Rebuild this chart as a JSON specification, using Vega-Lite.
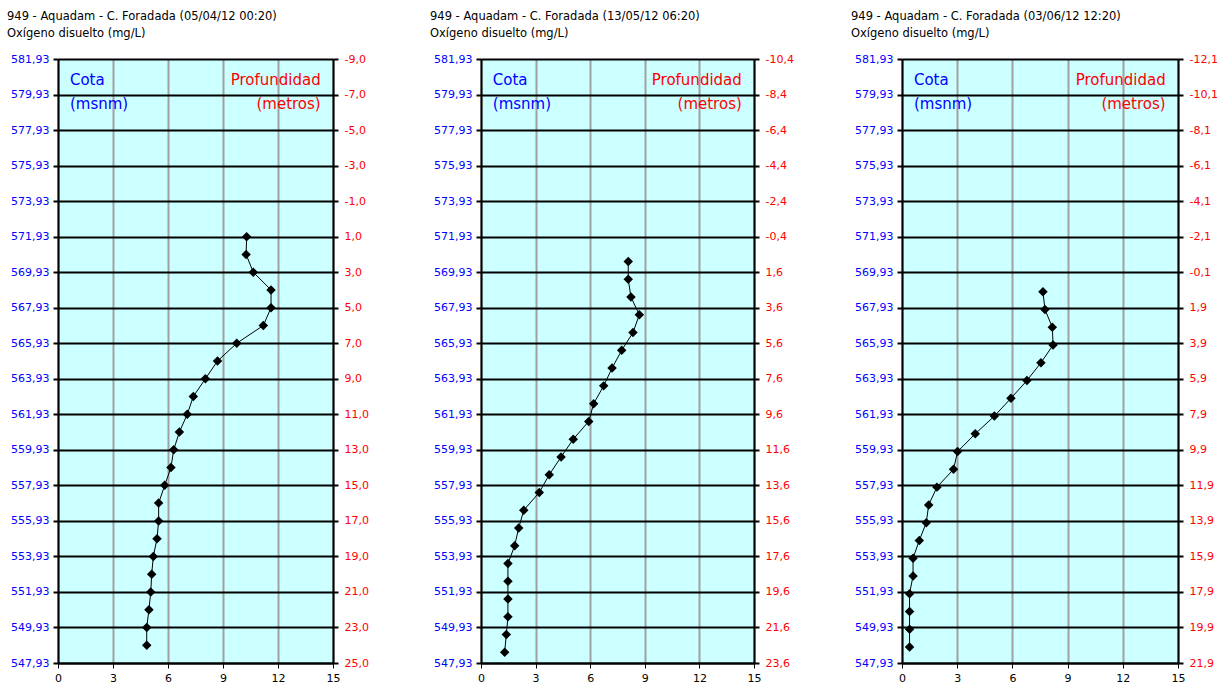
{
  "$schema": "https://vega.github.io/schema/vega-lite/v6.json",
  "background": "white",
  "padding": {"left": 0, "top": 11, "right": 0, "bottom": 0},
  "spacing": 45,
  "config": {
    "view": {"fill": "#ccffff", "stroke": null},
    "font": "DejaVu Sans",
    "title": {"anchor": "start", "frame": "group", "dx": -51, "fontSize": 11.5, "fontWeight": "normal", "lineHeight": 16.5, "offset": 14, "color": "black", "font": "DejaVu Sans"}
  },
  "datasets": {
    "p1": [
      {"cota": 571.93, "od": 10.29}, {"cota": 570.93, "od": 10.26}, {"cota": 569.93, "od": 10.65},
      {"cota": 568.93, "od": 11.62}, {"cota": 567.93, "od": 11.62}, {"cota": 566.93, "od": 11.2},
      {"cota": 565.93, "od": 9.75}, {"cota": 564.93, "od": 8.7}, {"cota": 563.93, "od": 8.04},
      {"cota": 562.93, "od": 7.38}, {"cota": 561.93, "od": 7.05}, {"cota": 560.93, "od": 6.62},
      {"cota": 559.93, "od": 6.31}, {"cota": 558.93, "od": 6.16}, {"cota": 557.93, "od": 5.82},
      {"cota": 556.93, "od": 5.49}, {"cota": 555.93, "od": 5.49}, {"cota": 554.93, "od": 5.4},
      {"cota": 553.93, "od": 5.2}, {"cota": 552.93, "od": 5.11}, {"cota": 551.93, "od": 5.06},
      {"cota": 550.93, "od": 4.96}, {"cota": 549.93, "od": 4.84}, {"cota": 548.93, "od": 4.84}
    ],
    "p2": [
      {"cota": 570.53, "od": 8.09}, {"cota": 569.53, "od": 8.09}, {"cota": 568.53, "od": 8.24},
      {"cota": 567.53, "od": 8.7}, {"cota": 566.53, "od": 8.35}, {"cota": 565.53, "od": 7.73},
      {"cota": 564.53, "od": 7.2}, {"cota": 563.53, "od": 6.74}, {"cota": 562.53, "od": 6.19},
      {"cota": 561.53, "od": 5.92}, {"cota": 560.53, "od": 5.07}, {"cota": 559.53, "od": 4.4},
      {"cota": 558.53, "od": 3.75}, {"cota": 557.53, "od": 3.2}, {"cota": 556.53, "od": 2.35},
      {"cota": 555.53, "od": 2.07}, {"cota": 554.53, "od": 1.85}, {"cota": 553.53, "od": 1.48},
      {"cota": 552.53, "od": 1.48}, {"cota": 551.53, "od": 1.48}, {"cota": 550.53, "od": 1.48},
      {"cota": 549.53, "od": 1.39}, {"cota": 548.53, "od": 1.3}
    ],
    "p3": [
      {"cota": 568.83, "od": 7.66}, {"cota": 567.83, "od": 7.77}, {"cota": 566.83, "od": 8.17},
      {"cota": 565.83, "od": 8.21}, {"cota": 564.83, "od": 7.55}, {"cota": 563.83, "od": 6.79},
      {"cota": 562.83, "od": 5.92}, {"cota": 561.83, "od": 5.02}, {"cota": 560.83, "od": 3.98},
      {"cota": 559.83, "od": 3.02}, {"cota": 558.83, "od": 2.8}, {"cota": 557.83, "od": 1.9},
      {"cota": 556.83, "od": 1.45}, {"cota": 555.83, "od": 1.32}, {"cota": 554.83, "od": 0.94},
      {"cota": 553.83, "od": 0.6}, {"cota": 552.83, "od": 0.6}, {"cota": 551.83, "od": 0.41},
      {"cota": 550.83, "od": 0.41}, {"cota": 549.83, "od": 0.41}, {"cota": 548.83, "od": 0.41}
    ]
  },
  "hconcat": [
    {
      "width": 275, "height": 604,
      "title": {"text": ["949 - Aquadam - C. Foradada (05/04/12 00:20)", "Oxígeno disuelto (mg/L)"]},
      "data": {"name": "p1"},
      "resolve": {"axis": {"y": "independent"}},
      "layer": [
        {
          "mark": {"type": "line", "color": "black", "strokeWidth": 1},
          "encoding": {
            "x": {"field": "od", "type": "quantitative", "scale": {"domain": [0, 15], "nice": false, "zero": false},
              "axis": {"title": null, "values": [0, 3, 6, 9, 12, 15], "format": "d", "labelFlush": false, "labelColor": "black", "labelFont": "DejaVu Sans", "labelFontSize": 11, "tickSize": 5, "tickColor": "black", "tickWidth": 1, "labelPadding": 4, "domainColor": "black", "domainWidth": 2, "grid": true, "gridColor": "#a0a0a0", "gridWidth": 2, "gridOpacity": 1}},
            "y": {"field": "cota", "type": "quantitative", "scale": {"domain": [547.93, 581.93], "nice": false, "zero": false},
              "axis": {"orient": "left", "title": null, "values": [547.93, 549.93, 551.93, 553.93, 555.93, 557.93, 559.93, 561.93, 563.93, 565.93, 567.93, 569.93, 571.93, 573.93, 575.93, 577.93, 579.93, 581.93],
                "labelExpr": "replace(format(datum.value, '.2f'), '.', ',')", "labelColor": "#0000ff", "labelFont": "DejaVu Sans", "labelFontSize": 11, "labelOverlap": false, "tickSize": 5, "tickColor": "black", "tickWidth": 2, "labelPadding": 4, "domainColor": "black", "domainWidth": 2, "grid": true, "gridColor": "black", "gridWidth": 2, "gridOpacity": 1, "minExtent": 58, "maxExtent": 58}},
            "order": {"field": "cota", "type": "quantitative", "sort": "descending"}
          }
        },
        {
          "mark": {"type": "point", "shape": "diamond", "filled": true, "color": "black", "size": 90, "opacity": 1},
          "encoding": {
            "x": {"field": "od", "type": "quantitative", "axis": {"title": null}},
            "y": {"field": "cota", "type": "quantitative",
              "axis": {"orient": "right", "title": null, "values": [547.93, 549.93, 551.93, 553.93, 555.93, 557.93, 559.93, 561.93, 563.93, 565.93, 567.93, 569.93, 571.93, 573.93, 575.93, 577.93, 579.93, 581.93],
                "labelExpr": "replace(replace(format(572.93 - datum.value, '.1f'), '.', ','), '−', '-')", "labelColor": "#ff0000", "labelFont": "DejaVu Sans", "labelFontSize": 11, "labelOverlap": false, "tickSize": 5, "tickColor": "black", "tickWidth": 2, "labelPadding": 6, "domainColor": "black", "domainWidth": 2, "grid": false, "minExtent": 45, "maxExtent": 45}}
          }
        },
        {
          "data": {"values": [{}]},
          "mark": {"type": "text", "align": "left", "baseline": "alphabetic", "fontSize": 15, "font": "DejaVu Sans", "color": "#0000ff", "lineHeight": 24},
          "encoding": {
            "x": {"datum": 0.65, "type": "quantitative", "axis": {"title": null}},
            "y": {"datum": 580.44, "type": "quantitative", "axis": null},
            "text": {"value": ["Cota", "(msnm)"]}
          }
        },
        {
          "data": {"values": [{}]},
          "mark": {"type": "text", "align": "right", "baseline": "alphabetic", "fontSize": 15, "font": "DejaVu Sans", "color": "#ff0000", "lineHeight": 24},
          "encoding": {
            "x": {"datum": 14.33, "type": "quantitative", "axis": {"title": null}},
            "y": {"datum": 580.44, "type": "quantitative", "axis": null},
            "text": {"value": ["Profundidad", "(metros)"]}
          }
        }
      ]
    },
    {
      "width": 273, "height": 604,
      "title": {"text": ["949 - Aquadam - C. Foradada (13/05/12 06:20)", "Oxígeno disuelto (mg/L)"]},
      "data": {"name": "p2"},
      "resolve": {"axis": {"y": "independent"}},
      "layer": [
        {
          "mark": {"type": "line", "color": "black", "strokeWidth": 1},
          "encoding": {
            "x": {"field": "od", "type": "quantitative", "scale": {"domain": [0, 15], "nice": false, "zero": false},
              "axis": {"title": null, "values": [0, 3, 6, 9, 12, 15], "format": "d", "labelFlush": false, "labelColor": "black", "labelFont": "DejaVu Sans", "labelFontSize": 11, "tickSize": 5, "tickColor": "black", "tickWidth": 1, "labelPadding": 4, "domainColor": "black", "domainWidth": 2, "grid": true, "gridColor": "#a0a0a0", "gridWidth": 2, "gridOpacity": 1}},
            "y": {"field": "cota", "type": "quantitative", "scale": {"domain": [547.93, 581.93], "nice": false, "zero": false},
              "axis": {"orient": "left", "title": null, "values": [547.93, 549.93, 551.93, 553.93, 555.93, 557.93, 559.93, 561.93, 563.93, 565.93, 567.93, 569.93, 571.93, 573.93, 575.93, 577.93, 579.93, 581.93],
                "labelExpr": "replace(format(datum.value, '.2f'), '.', ',')", "labelColor": "#0000ff", "labelFont": "DejaVu Sans", "labelFontSize": 11, "labelOverlap": false, "tickSize": 5, "tickColor": "black", "tickWidth": 2, "labelPadding": 4, "domainColor": "black", "domainWidth": 2, "grid": true, "gridColor": "black", "gridWidth": 2, "gridOpacity": 1, "minExtent": 58, "maxExtent": 58}},
            "order": {"field": "cota", "type": "quantitative", "sort": "descending"}
          }
        },
        {
          "mark": {"type": "point", "shape": "diamond", "filled": true, "color": "black", "size": 90, "opacity": 1},
          "encoding": {
            "x": {"field": "od", "type": "quantitative", "axis": {"title": null}},
            "y": {"field": "cota", "type": "quantitative",
              "axis": {"orient": "right", "title": null, "values": [547.93, 549.93, 551.93, 553.93, 555.93, 557.93, 559.93, 561.93, 563.93, 565.93, 567.93, 569.93, 571.93, 573.93, 575.93, 577.93, 579.93, 581.93],
                "labelExpr": "replace(replace(format(571.53 - datum.value, '.1f'), '.', ','), '−', '-')", "labelColor": "#ff0000", "labelFont": "DejaVu Sans", "labelFontSize": 11, "labelOverlap": false, "tickSize": 5, "tickColor": "black", "tickWidth": 2, "labelPadding": 6, "domainColor": "black", "domainWidth": 2, "grid": false, "minExtent": 45, "maxExtent": 45}}
          }
        },
        {
          "data": {"values": [{}]},
          "mark": {"type": "text", "align": "left", "baseline": "alphabetic", "fontSize": 15, "font": "DejaVu Sans", "color": "#0000ff", "lineHeight": 24},
          "encoding": {
            "x": {"datum": 0.65, "type": "quantitative", "axis": {"title": null}},
            "y": {"datum": 580.44, "type": "quantitative", "axis": null},
            "text": {"value": ["Cota", "(msnm)"]}
          }
        },
        {
          "data": {"values": [{}]},
          "mark": {"type": "text", "align": "right", "baseline": "alphabetic", "fontSize": 15, "font": "DejaVu Sans", "color": "#ff0000", "lineHeight": 24},
          "encoding": {
            "x": {"datum": 14.33, "type": "quantitative", "axis": {"title": null}},
            "y": {"datum": 580.44, "type": "quantitative", "axis": null},
            "text": {"value": ["Profundidad", "(metros)"]}
          }
        }
      ]
    },
    {
      "width": 276, "height": 604,
      "title": {"text": ["949 - Aquadam - C. Foradada (03/06/12 12:20)", "Oxígeno disuelto (mg/L)"]},
      "data": {"name": "p3"},
      "resolve": {"axis": {"y": "independent"}},
      "layer": [
        {
          "mark": {"type": "line", "color": "black", "strokeWidth": 1},
          "encoding": {
            "x": {"field": "od", "type": "quantitative", "scale": {"domain": [0, 15], "nice": false, "zero": false},
              "axis": {"title": null, "values": [0, 3, 6, 9, 12, 15], "format": "d", "labelFlush": false, "labelColor": "black", "labelFont": "DejaVu Sans", "labelFontSize": 11, "tickSize": 5, "tickColor": "black", "tickWidth": 1, "labelPadding": 4, "domainColor": "black", "domainWidth": 2, "grid": true, "gridColor": "#a0a0a0", "gridWidth": 2, "gridOpacity": 1}},
            "y": {"field": "cota", "type": "quantitative", "scale": {"domain": [547.93, 581.93], "nice": false, "zero": false},
              "axis": {"orient": "left", "title": null, "values": [547.93, 549.93, 551.93, 553.93, 555.93, 557.93, 559.93, 561.93, 563.93, 565.93, 567.93, 569.93, 571.93, 573.93, 575.93, 577.93, 579.93, 581.93],
                "labelExpr": "replace(format(datum.value, '.2f'), '.', ',')", "labelColor": "#0000ff", "labelFont": "DejaVu Sans", "labelFontSize": 11, "labelOverlap": false, "tickSize": 5, "tickColor": "black", "tickWidth": 2, "labelPadding": 4, "domainColor": "black", "domainWidth": 2, "grid": true, "gridColor": "black", "gridWidth": 2, "gridOpacity": 1, "minExtent": 58, "maxExtent": 58}},
            "order": {"field": "cota", "type": "quantitative", "sort": "descending"}
          }
        },
        {
          "mark": {"type": "point", "shape": "diamond", "filled": true, "color": "black", "size": 90, "opacity": 1},
          "encoding": {
            "x": {"field": "od", "type": "quantitative", "axis": {"title": null}},
            "y": {"field": "cota", "type": "quantitative",
              "axis": {"orient": "right", "title": null, "values": [547.93, 549.93, 551.93, 553.93, 555.93, 557.93, 559.93, 561.93, 563.93, 565.93, 567.93, 569.93, 571.93, 573.93, 575.93, 577.93, 579.93, 581.93],
                "labelExpr": "replace(replace(format(569.83 - datum.value, '.1f'), '.', ','), '−', '-')", "labelColor": "#ff0000", "labelFont": "DejaVu Sans", "labelFontSize": 11, "labelOverlap": false, "tickSize": 5, "tickColor": "black", "tickWidth": 2, "labelPadding": 6, "domainColor": "black", "domainWidth": 2, "grid": false, "minExtent": 45, "maxExtent": 45}}
          }
        },
        {
          "data": {"values": [{}]},
          "mark": {"type": "text", "align": "left", "baseline": "alphabetic", "fontSize": 15, "font": "DejaVu Sans", "color": "#0000ff", "lineHeight": 24},
          "encoding": {
            "x": {"datum": 0.65, "type": "quantitative", "axis": {"title": null}},
            "y": {"datum": 580.44, "type": "quantitative", "axis": null},
            "text": {"value": ["Cota", "(msnm)"]}
          }
        },
        {
          "data": {"values": [{}]},
          "mark": {"type": "text", "align": "right", "baseline": "alphabetic", "fontSize": 15, "font": "DejaVu Sans", "color": "#ff0000", "lineHeight": 24},
          "encoding": {
            "x": {"datum": 14.33, "type": "quantitative", "axis": {"title": null}},
            "y": {"datum": 580.44, "type": "quantitative", "axis": null},
            "text": {"value": ["Profundidad", "(metros)"]}
          }
        }
      ]
    }
  ]
}
